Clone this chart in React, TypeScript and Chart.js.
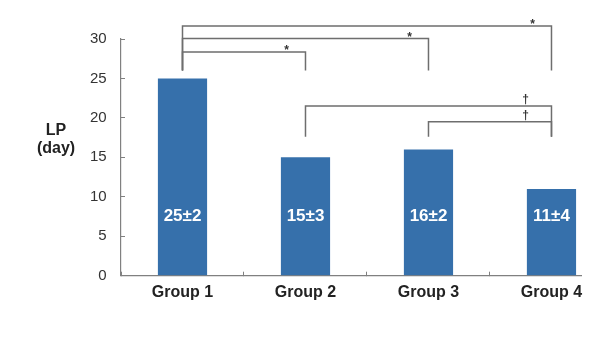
import React, { useEffect, useRef } from "react";
import { Chart, registerables } from "chart.js";

Chart.register(...registerables);

const FONT = "'Liberation Sans', Arial, sans-serif";

const categories = ["Group 1", "Group 2", "Group 3", "Group 4"];
const lpValues = [25, 15, 16, 11];
const valueLabels = ["25±2", "15±3", "16±2", "11±4"];
const yTicks = [0, 5, 10, 15, 20, 25, 30];
const yTitleLines = ["LP", "(day)"];

// significance brackets: group indices, bracket level, foot level (in days), symbol
const bracketFrom = [0, 0, 0, 1, 2];
const bracketTo = [1, 2, 3, 3, 3];
const bracketLevel = [28.35, 30.05, 31.65, 21.5, 19.5];
const bracketFoot = [26, 26, 26, 17.6, 17.6];
const bracketSymbol = ["*", "*", "*", "†", "†"];

const annotPlugin = {
  id: "annot",
  afterDatasetsDraw(chart: any) {
    const { ctx, chartArea } = chart;
    const x = chart.scales.x;
    const y = chart.scales.y;
    ctx.save();

    // value labels inside bars
    ctx.fillStyle = "#ffffff";
    ctx.font = `bold 17px ${FONT}`;
    ctx.textAlign = "center";
    ctx.textBaseline = "middle";
    valueLabels.forEach((t, i) => {
      ctx.fillText(t, x.getPixelForValue(i), y.getPixelForValue(7.5));
    });

    // brackets
    ctx.strokeStyle = "#6e6e6e";
    ctx.lineWidth = 1.5;
    for (let i = 0; i < bracketFrom.length; i++) {
      const x1 = x.getPixelForValue(bracketFrom[i]);
      const x2 = x.getPixelForValue(bracketTo[i]);
      const yl = y.getPixelForValue(bracketLevel[i]);
      const yf = y.getPixelForValue(bracketFoot[i]);
      ctx.beginPath();
      ctx.moveTo(x1, yf);
      ctx.lineTo(x1, yl);
      ctx.lineTo(x2, yl);
      ctx.lineTo(x2, yf);
      ctx.stroke();

      const sym = bracketSymbol[i];
      ctx.fillStyle = "#333333";
      ctx.font = `bold 12px ${FONT}`;
      ctx.textAlign = "center";
      ctx.textBaseline = "alphabetic";
      if (sym === "*") {
        ctx.fillText(sym, x2 - 19, yl + 2);
      } else {
        ctx.fillText(sym, x2 - 26, yl - 3);
      }
    }

    // y-axis title (horizontal, two lines)
    ctx.fillStyle = "#222222";
    ctx.font = `bold 16px ${FONT}`;
    ctx.textAlign = "center";
    ctx.textBaseline = "middle";
    yTitleLines.forEach((t, i) => {
      ctx.fillText(t, chartArea.left - 65, chartArea.top + 92 + i * 18);
    });

    ctx.restore();
  },
};

export default function App() {
  const ref = useRef<HTMLCanvasElement | null>(null);

  useEffect(() => {
    if (!ref.current) return;
    const chart = new Chart(ref.current, {
      type: "bar",
      data: {
        datasets: [
          {
            data: lpValues.map((v, i) => ({ x: i, y: v })),
            backgroundColor: "#3670ab",
            barPercentage: 0.4,
            categoryPercentage: 1.0,
          },
        ],
      },
      options: {
        animation: false,
        responsive: false,
        layout: { padding: { left: 0, right: 17, top: 31, bottom: 12.3 } },
        plugins: {
          legend: { display: false },
          tooltip: { enabled: false },
        },
        scales: {
          x: {
            type: "linear",
            offset: false,
            min: -0.5,
            max: 3.24,
            afterBuildTicks: (s: any) => {
              s.ticks = categories.map((_, i) => ({ value: i }));
            },
            afterFit: (s: any) => {
              s.height = 40;
            },
            grid: {
              display: true,
              drawOnChartArea: false,
              drawTicks: true,
              tickLength: -4,
              offset: true,
              color: "#808080",
              lineWidth: 1,
            },
            border: { display: true, color: "#808080", width: 1.2 },
            ticks: {
              callback: (v: any) => categories[Number(v)] ?? "",
              font: { family: FONT, size: 16, weight: "bold" },
              color: "#222222",
              padding: 11.7,
              maxRotation: 0,
              autoSkip: false,
            },
          },
          y: {
            min: 0,
            max: 30,
            afterBuildTicks: (s: any) => {
              s.ticks = yTicks.map((v) => ({ value: v }));
            },
            afterFit: (s: any) => {
              s.width = 113;
            },
            grid: {
              display: true,
              drawOnChartArea: false,
              drawTicks: true,
              tickLength: -4,
              color: "#808080",
              lineWidth: 1,
            },
            border: { display: true, color: "#808080", width: 1.2 },
            ticks: {
              font: { family: FONT, size: 15 },
              color: "#333333",
              padding: 18.3,
            },
          },
        },
      } as any,
      plugins: [annotPlugin],
    });
    return () => chart.destroy();
  }, []);

  return (
    <canvas
      ref={ref}
      width={590}
      height={320}
      style={{ display: "block", width: "590px", height: "320px" }}
    />
  );
}
